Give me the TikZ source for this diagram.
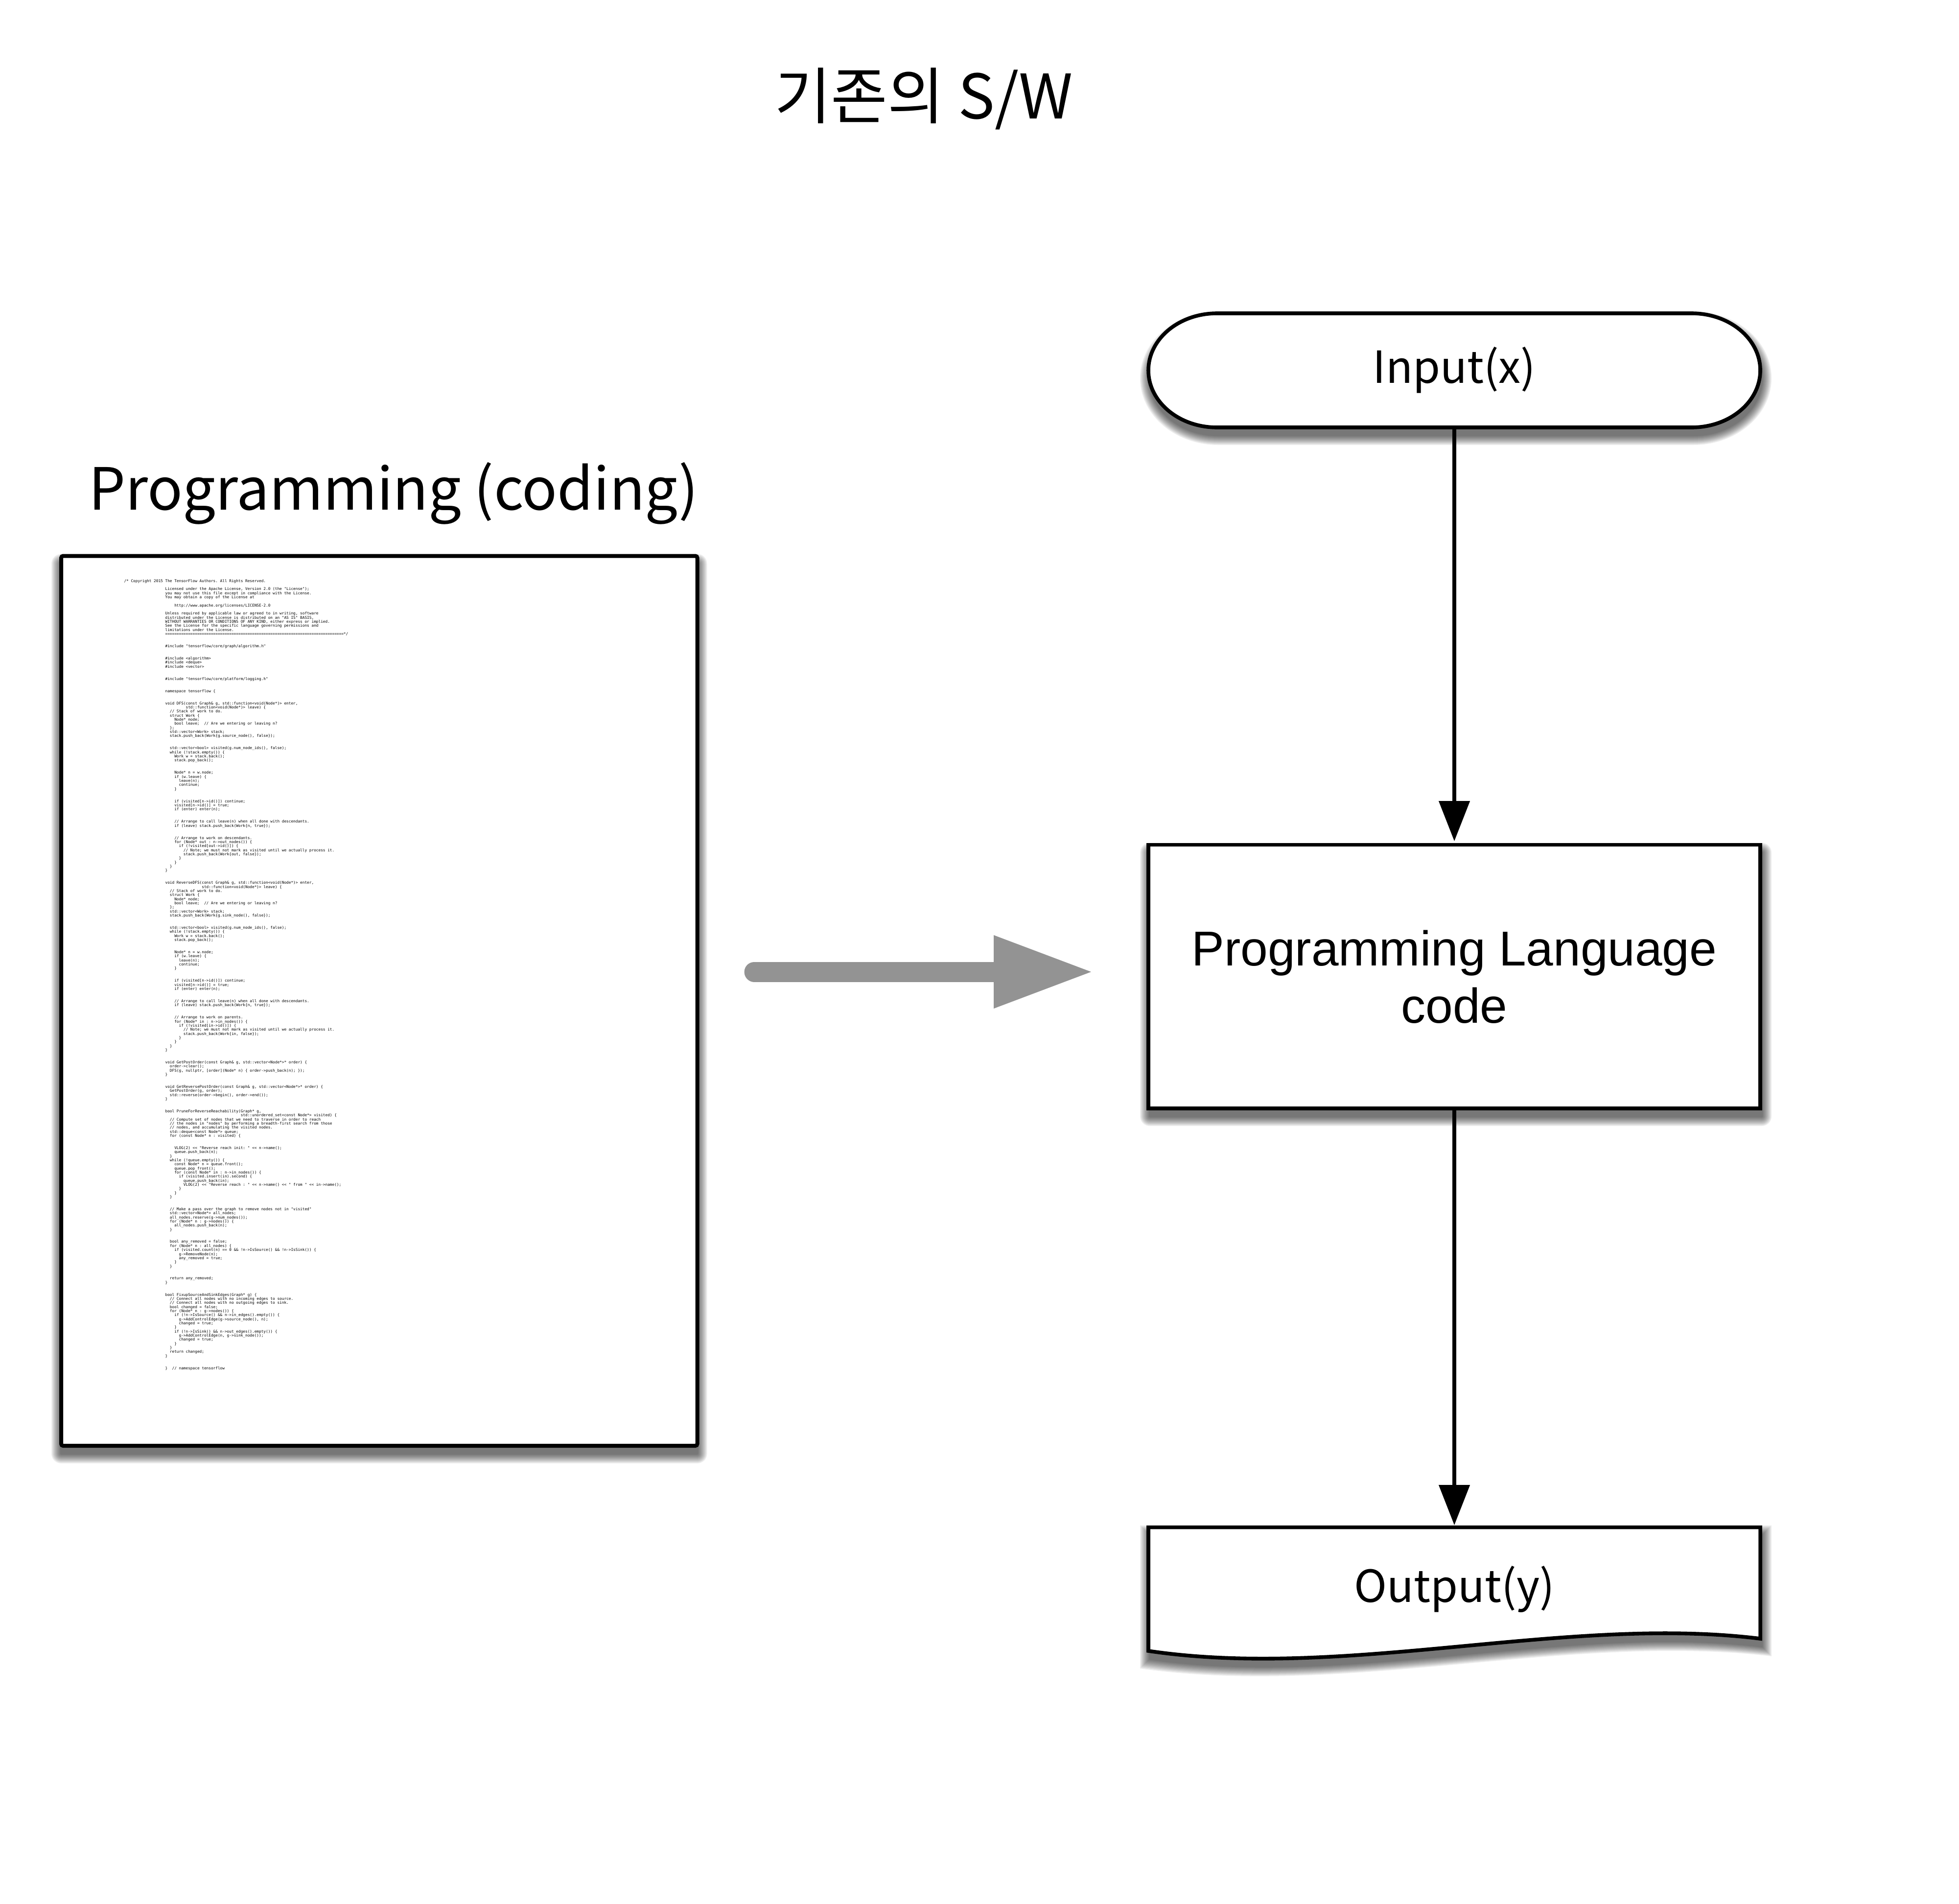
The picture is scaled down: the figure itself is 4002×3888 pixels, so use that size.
\documentclass[tikz,border=0pt]{standalone}
\usepackage{fontspec}
\newfontfamily\krfont{Noto Sans CJK KR}
\newfontfamily\hvfont{Liberation Sans}
\newfontfamily\codefont{DejaVu Sans Mono}[Ligatures=TeXOff]
\usetikzlibrary{arrows.meta}
\definecolor{arrowgray}{HTML}{939393}
\newdimen\codecw
\newcommand\codeln[2]{\hbox{\kern#1\codecw\relax#2}}
\newcommand\codebl{\hbox{}}
\tikzset{
  shapeline/.style={draw=black, line width=1.9pt, fill=white},
  conn/.style={draw=black, line width=1.9pt, -{Triangle[length=20.5pt,width=15.5pt]}, shorten >=0.9pt},
  shadowlayer/.style={fill=black, fill opacity=0.07, draw=none},
  titletext/.style={font=\krfont\fontsize{31.4pt}{38pt}\selectfont, inner sep=0pt},
  labeltext/.style={font=\krfont\fontsize{29.7pt}{36pt}\selectfont, inner sep=0pt},
  iotext/.style={font=\krfont\fontsize{22.6pt}{27pt}\selectfont, inner sep=0pt},
  proctext/.style={font=\hvfont\fontsize{25pt}{29.25pt}\selectfont, align=center},
}
\begin{document}
\begin{tikzpicture}[x=0.25pt,y=-0.25pt]
\fill[white] (0,0) rectangle (4002,3888);
\useasboundingbox (0,0) rectangle (4002,3888);

% title
\node[titletext, anchor=base] (title) at (1887,242) {기존의 S/W};

% label
\node[labeltext, anchor=base] (codelabel) at (804,1041) {Programming (coding)};

% page shadow
\foreach \rr in {2,4,...,20} {
  \fill[shadowlayer, rounded corners={\rr*0.25pt}] ({125-\rr},{1135.5+16-\rr}) rectangle ({1424.5+\rr},{2953+16+\rr});
}
% page
\node[draw=black, line width=2pt, fill=white, rounded corners=1pt, inner sep=0pt,
      minimum width=324.875pt, minimum height=454.375pt] (page) at (774.75,2044.25) {};

% code text
\node[anchor=base west, inner sep=0pt] (code) at (252.7,1189) {\codefont\fontsize{1.94pt}{2.0833pt}\selectfont\frenchspacing\setbox0=\hbox{0}\global\codecw=\wd0 \vtop{\baselineskip=2.0833pt\lineskiplimit=-100pt\lineskip=0pt
\codeln{0}{/* Copyright 2015 The TensorFlow Authors. All Rights Reserved.}
\codebl
\codeln{18}{Licensed under the Apache License, Version 2.0 (the "License");}
\codeln{18}{you may not use this file except in compliance with the License.}
\codeln{18}{You may obtain a copy of the License at}
\codebl
\codeln{22}{http://www.apache.org/licenses/LICENSE-2.0}
\codebl
\codeln{18}{Unless required by applicable law or agreed to in writing, software}
\codeln{18}{distributed under the License is distributed on an "AS IS" BASIS,}
\codeln{18}{WITHOUT WARRANTIES OR CONDITIONS OF ANY KIND, either express or implied.}
\codeln{18}{See the License for the specific language governing permissions and}
\codeln{18}{limitations under the License.}
\codeln{18}{==============================================================================*/}
\codebl
\codebl
\codeln{18}{\#include "tensorflow/core/graph/algorithm.h"}
\codebl
\codebl
\codeln{18}{\#include <algorithm>}
\codeln{18}{\#include <deque>}
\codeln{18}{\#include <vector>}
\codebl
\codebl
\codeln{18}{\#include "tensorflow/core/platform/logging.h"}
\codebl
\codebl
\codeln{18}{namespace tensorflow \{}
\codebl
\codebl
\codeln{18}{void DFS(const Graph\& g, std::function<void(Node*)> enter,}
\codeln{27}{std::function<void(Node*)> leave) \{}
\codeln{20}{// Stack of work to do.}
\codeln{20}{struct Work \{}
\codeln{22}{Node* node;}
\codeln{22}{bool leave;\ \ // Are we entering or leaving n?}
\codeln{20}{\};}
\codeln{20}{std::vector<Work> stack;}
\codeln{20}{stack.push\_back(Work\{g.source\_node(), false\});}
\codebl
\codebl
\codeln{20}{std::vector<bool> visited(g.num\_node\_ids(), false);}
\codeln{20}{while (!stack.empty()) \{}
\codeln{22}{Work w = stack.back();}
\codeln{22}{stack.pop\_back();}
\codebl
\codebl
\codeln{22}{Node* n = w.node;}
\codeln{22}{if (w.leave) \{}
\codeln{24}{leave(n);}
\codeln{24}{continue;}
\codeln{22}{\}}
\codebl
\codebl
\codeln{22}{if (visited[n->id()]) continue;}
\codeln{22}{visited[n->id()] = true;}
\codeln{22}{if (enter) enter(n);}
\codebl
\codebl
\codeln{22}{// Arrange to call leave(n) when all done with descendants.}
\codeln{22}{if (leave) stack.push\_back(Work\{n, true\});}
\codebl
\codebl
\codeln{22}{// Arrange to work on descendants.}
\codeln{22}{for (Node* out : n->out\_nodes()) \{}
\codeln{24}{if (!visited[out->id()]) \{}
\codeln{26}{// Note; we must not mark as visited until we actually process it.}
\codeln{26}{stack.push\_back(Work\{out, false\});}
\codeln{24}{\}}
\codeln{22}{\}}
\codeln{20}{\}}
\codeln{18}{\}}
\codebl
\codebl
\codeln{18}{void ReverseDFS(const Graph\& g, std::function<void(Node*)> enter,}
\codeln{34}{std::function<void(Node*)> leave) \{}
\codeln{20}{// Stack of work to do.}
\codeln{20}{struct Work \{}
\codeln{22}{Node* node;}
\codeln{22}{bool leave;\ \ // Are we entering or leaving n?}
\codeln{20}{\};}
\codeln{20}{std::vector<Work> stack;}
\codeln{20}{stack.push\_back(Work\{g.sink\_node(), false\});}
\codebl
\codebl
\codeln{20}{std::vector<bool> visited(g.num\_node\_ids(), false);}
\codeln{20}{while (!stack.empty()) \{}
\codeln{22}{Work w = stack.back();}
\codeln{22}{stack.pop\_back();}
\codebl
\codebl
\codeln{22}{Node* n = w.node;}
\codeln{22}{if (w.leave) \{}
\codeln{24}{leave(n);}
\codeln{24}{continue;}
\codeln{22}{\}}
\codebl
\codebl
\codeln{22}{if (visited[n->id()]) continue;}
\codeln{22}{visited[n->id()] = true;}
\codeln{22}{if (enter) enter(n);}
\codebl
\codebl
\codeln{22}{// Arrange to call leave(n) when all done with descendants.}
\codeln{22}{if (leave) stack.push\_back(Work\{n, true\});}
\codebl
\codebl
\codeln{22}{// Arrange to work on parents.}
\codeln{22}{for (Node* in : n->in\_nodes()) \{}
\codeln{24}{if (!visited[in->id()]) \{}
\codeln{26}{// Note; we must not mark as visited until we actually process it.}
\codeln{26}{stack.push\_back(Work\{in, false\});}
\codeln{24}{\}}
\codeln{22}{\}}
\codeln{20}{\}}
\codeln{18}{\}}
\codebl
\codebl
\codeln{18}{void GetPostOrder(const Graph\& g, std::vector<Node*>* order) \{}
\codeln{20}{order->clear();}
\codeln{20}{DFS(g, nullptr, [order](Node* n) \{ order->push\_back(n); \});}
\codeln{18}{\}}
\codebl
\codebl
\codeln{18}{void GetReversePostOrder(const Graph\& g, std::vector<Node*>* order) \{}
\codeln{20}{GetPostOrder(g, order);}
\codeln{20}{std::reverse(order->begin(), order->end());}
\codeln{18}{\}}
\codebl
\codebl
\codeln{18}{bool PruneForReverseReachability(Graph* g,}
\codeln{51}{std::unordered\_set<const Node*> visited) \{}
\codeln{20}{// Compute set of nodes that we need to traverse in order to reach}
\codeln{20}{// the nodes in "nodes" by performing a breadth-first search from those}
\codeln{20}{// nodes, and accumulating the visited nodes.}
\codeln{20}{std::deque<const Node*> queue;}
\codeln{20}{for (const Node* n : visited) \{}
\codebl
\codebl
\codeln{22}{VLOG(2) << "Reverse reach init: " << n->name();}
\codeln{22}{queue.push\_back(n);}
\codeln{20}{\}}
\codeln{20}{while (!queue.empty()) \{}
\codeln{22}{const Node* n = queue.front();}
\codeln{22}{queue.pop\_front();}
\codeln{22}{for (const Node* in : n->in\_nodes()) \{}
\codeln{24}{if (visited.insert(in).second) \{}
\codeln{26}{queue.push\_back(in);}
\codeln{26}{VLOG(2) << "Reverse reach : " << n->name() << " from " << in->name();}
\codeln{24}{\}}
\codeln{22}{\}}
\codeln{20}{\}}
\codebl
\codebl
\codeln{20}{// Make a pass over the graph to remove nodes not in "visited"}
\codeln{20}{std::vector<Node*> all\_nodes;}
\codeln{20}{all\_nodes.reserve(g->num\_nodes());}
\codeln{20}{for (Node* n : g->nodes()) \{}
\codeln{22}{all\_nodes.push\_back(n);}
\codeln{20}{\}}
\codebl
\codebl
\codeln{20}{bool any\_removed = false;}
\codeln{20}{for (Node* n : all\_nodes) \{}
\codeln{22}{if (visited.count(n) == 0 \&\& !n->IsSource() \&\& !n->IsSink()) \{}
\codeln{24}{g->RemoveNode(n);}
\codeln{24}{any\_removed = true;}
\codeln{22}{\}}
\codeln{20}{\}}
\codebl
\codebl
\codeln{20}{return any\_removed;}
\codeln{18}{\}}
\codebl
\codebl
\codeln{18}{bool FixupSourceAndSinkEdges(Graph* g) \{}
\codeln{20}{// Connect all nodes with no incoming edges to source.}
\codeln{20}{// Connect all nodes with no outgoing edges to sink.}
\codeln{20}{bool changed = false;}
\codeln{20}{for (Node* n : g->nodes()) \{}
\codeln{22}{if (!n->IsSource() \&\& n->in\_edges().empty()) \{}
\codeln{24}{g->AddControlEdge(g->source\_node(), n);}
\codeln{24}{changed = true;}
\codeln{22}{\}}
\codeln{22}{if (!n->IsSink() \&\& n->out\_edges().empty()) \{}
\codeln{24}{g->AddControlEdge(n, g->sink\_node());}
\codeln{24}{changed = true;}
\codeln{22}{\}}
\codeln{20}{\}}
\codeln{20}{return changed;}
\codeln{18}{\}}
\codebl
\codebl
\codeln{18}{\}\ \ // namespace tensorflow}
}};

% gray arrow
\coordinate (gA) at (1541,1985);
\coordinate (gH) at (2030,1985);
\coordinate (gB) at (2229,1985);
\draw[arrowgray, line width=10.25pt, line cap=round] (gA) -- (gH);
\fill[arrowgray] ([yshift=18.75pt]gH) -- (gB) -- ([yshift=-18.75pt]gH) -- cycle;

% Input stadium shadow
\foreach \rr in {2,4,...,20} {
  \pgfmathsetmacro\sL{2346-\rr+3}
  \pgfmathsetmacro\sR{3596+\rr+3}
  \pgfmathsetmacro\sT{640-\rr+16}
  \pgfmathsetmacro\sB{873+\rr+16}
  \pgfmathsetmacro\sX{140+\rr}
  \pgfmathsetmacro\sY{116.5+\rr}
  \pgfmathsetmacro\sC{(\sT+\sB)/2}
  \pgfmathsetmacro\kX{0.5523*\sX}
  \pgfmathsetmacro\kY{0.5523*\sY}
  \fill[shadowlayer] ({\sL+\sX},\sT) -- ({\sR-\sX},\sT)
     .. controls ({\sR-\sX+\kX},\sT) and (\sR,{\sC-\kY}) .. (\sR,\sC)
     .. controls (\sR,{\sC+\kY}) and ({\sR-\sX+\kX},\sB) .. ({\sR-\sX},\sB)
     -- ({\sL+\sX},\sB)
     .. controls ({\sL+\sX-\kX},\sB) and (\sL,{\sC+\kY}) .. (\sL,\sC)
     .. controls (\sL,{\sC-\kY}) and ({\sL+\sX-\kX},\sT) .. ({\sL+\sX},\sT) -- cycle;
}
% Input stadium
\draw[shapeline] (2486,640) -- (3456,640)
   .. controls (3533.3,640) and (3596,692.2) .. (3596,756.5)
   .. controls (3596,820.8) and (3533.3,873) .. (3456,873)
   -- (2486,873)
   .. controls (2408.7,873) and (2346,820.8) .. (2346,756.5)
   .. controls (2346,692.2) and (2408.7,640) .. (2486,640) -- cycle;
\node[inner sep=0pt, minimum width=312.5pt, minimum height=58.25pt] (inp) at (2971,756.5) {};
\node[iotext, anchor=base] (inptext) at (2971,782) {Input(x)};

% process box shadow
\foreach \rr in {2,4,...,20} {
  \fill[shadowlayer, rounded corners={\rr*0.25pt}] ({2346-\rr+3},{1725.5-\rr+16}) rectangle ({3596+\rr+3},{2264+\rr+16});
}
\node[shapeline, proctext, inner sep=0pt, minimum width=312.5pt, minimum height=134.625pt] (proc) at (2971,1994.75) {Programming Language\\code};

% output document shadow
\foreach \rr in {2,4,...,20} {
  \fill[shadowlayer] ({2346-\rr+3},{3119.5-\rr+16}) -- ({3596+\rr+3},{3119.5-\rr+16})
    -- ({3596+\rr+3},{3347+\rr+16})
    .. controls (3203,{3298+\rr+16}) and (2753,{3432+\rr+16}) .. ({2346-\rr+3},{3372+\rr+16}) -- cycle;
}
% output document
\draw[shapeline] (2346,3119.5) -- (3596,3119.5) -- (3596,3347)
   .. controls (3200,3298) and (2750,3432) .. (2346,3372) -- cycle;
\node[inner sep=0pt, minimum width=312.5pt, minimum height=60.125pt] (outp) at (2971,3239.75) {};
\node[iotext, anchor=base] (outtext) at (2971,3272) {Output(y)};

% connectors
\draw[conn] (inp.south) -- (proc.north);
\draw[conn] (proc.south) -- (outp.north);
\end{tikzpicture}
\end{document}
